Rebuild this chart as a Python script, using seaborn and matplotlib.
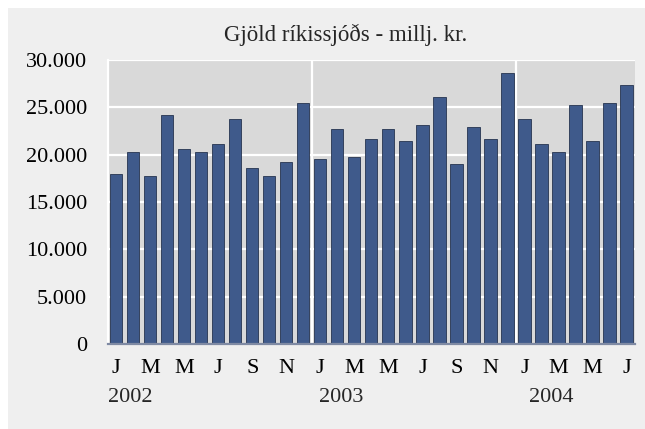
import numpy as np
import pandas as pd
import matplotlib
matplotlib.use('Agg')
import matplotlib.pyplot as plt
import matplotlib.transforms as mtransforms
from matplotlib.patches import Rectangle
import seaborn as sns

# Data: monthly expenditure, Jan 2002 - Jul 2004 (millj. kr.)
months = ['J', 'F', 'M', 'A', 'M', 'J', 'J', 'Á', 'S', 'O', 'N', 'D']
years = ['2002', '2003', '2004']
values_2002 = [17950, 20250, 17750, 24200, 20650, 20250, 21100, 23800, 18600, 17750, 19200, 25450]
values_2003 = [19600, 22750, 19800, 21700, 22750, 21500, 23150, 26100, 19000, 22950, 21700, 28600]
values_2004 = [23800, 21100, 20250, 25250, 21500, 25450, 27400]

values = values_2002 + values_2003 + values_2004
labels = [months[i % 12] for i in range(len(values))]
df = pd.DataFrame({'idx': np.arange(len(values)), 'value': values})

sns.set_theme(style='white')
plt.rcParams['font.family'] = ['Liberation Serif', 'DejaVu Serif']
fs = 16

fig = plt.figure(figsize=(6.45, 4.29), dpi=100)
fig.patch.set_facecolor('white')
# outer grey frame
fig.patches.append(Rectangle((8 / 645, 0), 1, 1 - 8 / 429, transform=fig.transFigure,
                             facecolor='#efefef', edgecolor='none', zorder=-10))

ax = fig.add_axes([0.167, 0.198, 0.8175, 0.662])
ax.set_facecolor('#d9d9d9')

sns.barplot(data=df, x='idx', y='value', color='#3f5a8b', saturation=1,
            width=0.72, edgecolor='#26344f', linewidth=0.6, ax=ax)

ax.set_xlim(-0.5, len(values) - 0.5)
ax.set_ylim(0, 30000)
ax.set_axisbelow(True)

yt = np.arange(0, 30001, 5000)
ax.set_yticks(yt)
ax.set_yticklabels([f'{v:,}'.replace(',', '.') for v in yt], fontsize=fs)
for y in yt[1:]:
    ax.axhline(y, color='white', lw=1.6, zorder=0)
for xb in [11.5, 23.5]:
    ax.axvline(xb, color='white', lw=1.6, zorder=0)

xt = np.arange(0, len(values), 2)
ax.set_xticks(xt)
ax.set_xticklabels([labels[i] for i in xt], fontsize=fs)
ax.tick_params(axis='both', length=0, colors='black')
ax.tick_params(axis='y', pad=15)
ax.tick_params(axis='x', pad=11)
ax.set_xlabel('')
ax.set_ylabel('')

trans = mtransforms.blended_transform_factory(ax.transData, ax.transAxes)
for k, (yr, off) in enumerate(zip(years, [0.8, 1.2, 1.6])):
    ax.text(k * 12 + off, -0.187, yr, transform=trans, ha='center', va='center', fontsize=fs)

for s in ['top', 'right']:
    ax.spines[s].set_visible(False)
ax.spines['left'].set_color('white')
ax.spines['left'].set_linewidth(1.6)
ax.spines['bottom'].set_color('#7f8aa3')
ax.spines['bottom'].set_linewidth(1.6)

fig.text(0.536, 1 - 35 / 429, 'Gjöld ríkissjóðs - millj. kr.', ha='center', va='center', fontsize=16.5)

fig.savefig('out.png', dpi=100)
